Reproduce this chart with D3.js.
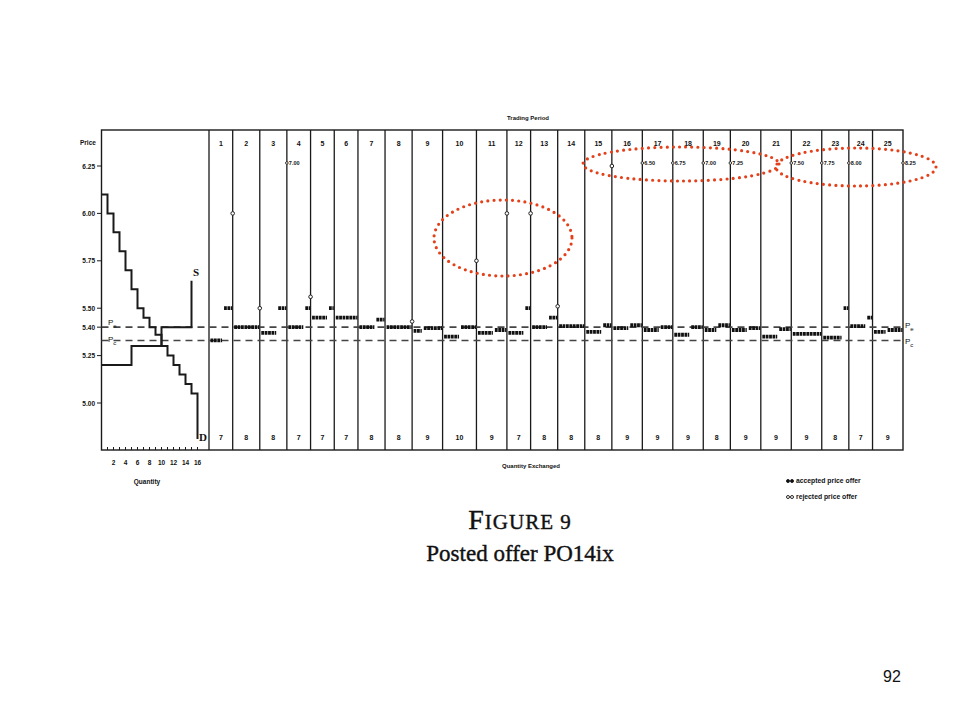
<!DOCTYPE html>
<html><head><meta charset="utf-8">
<script src="https://cdn.jsdelivr.net/npm/d3@7"></script>
<style>
html,body{margin:0;padding:0;background:#fff;}
svg text{fill:#111;}
</style></head>
<body>
<svg id="c" width="960" height="720"></svg>
<script>
// ---------------- data ----------------
const periods = d3.range(1, 26);
const quantityExchanged = [7,8,8,7,7,7,8,8,9,10,9,7,8,8,8,9,9,9,8,9,9,9,8,7,9];
// accepted price offers per period: prices and units sold at each
const acceptedPrice = [
 [5.33,5.50],[5.40],[5.37,5.50],[5.40,5.50],[5.45,5.50],[5.45],[5.40,5.44],[5.40],
 [5.38,5.395],[5.35,5.40],[5.37,5.385],[5.37,5.50],[5.40,5.45],[5.405],[5.375,5.41],
 [5.395,5.41],[5.385,5.40],[5.36,5.40],[5.385,5.41],[5.385,5.395],[5.35,5.39],
 [5.365],[5.345,5.50],[5.405,5.45],[5.375,5.385]
];
const acceptedUnits = [
 [4,3],[8],[5,3],[5,2],[5,2],[7],[5,3],[8],
 [3,6],[5,5],[5,4],[5,2],[5,3],[8],[5,3],
 [5,4],[5,4],[5,4],[4,4],[5,4],[5,4],
 [9],[6,2],[5,2],[4,5]
];
// rejected offers shown on the chart: after period k, price
const rejectedAfter = [1, 2, 4, 8, 10, 11, 12, 13, 15];
const rejectedPrice = [6.00, 5.50, 5.56, 5.43, 5.75, 6.00, 6.00, 5.51, 6.25];
// rejected offers above the chart (labelled)
const offScaleAfter = [3, 16, 17, 18, 19, 21, 22, 23, 25];
const offScalePrice = ["7.00","6.50","6.75","7.00","7.25","7.50","7.75","8.00","8.25"];
// supply and demand
const demandPrice = [6.10,6.00,5.90,5.80,5.70,5.60,5.50,5.45,5.40,5.36,5.30,5.25,5.20,5.15,5.10,5.05];
const supplyPrice = [5.20,5.30,5.40];
const supplyUnits = [5,5,5];
const supplyTop = 5.645, demandBottom = 4.81;
const priceTicks = [6.25,6.00,5.75,5.50,5.40,5.25,5.00];
const priceTickLabels = ["6.25","6.00","5.75","5.50","5.40","5.25","5.00"];
const qtyTicks = [2,4,6,8,10,12,14,16];
const pe = 5.40, pc = 5.33;

// ---------------- drawing ----------------
const svg = d3.select("#c");
const frameTop = 130, frameBottom = 450, frameLeft = 101.5, frameSplit = 209, frameRight = 903;
const y = d3.scaleLinear().domain([5.00, 6.25]).range([403, 166]);
const cum = [0];
quantityExchanged.forEach(q => cum.push(cum[cum.length-1] + q));
const xp = d3.scaleLinear().domain([0, cum[cum.length-1]]).range([frameSplit, frameRight]);
const xq = d3.scaleLinear().domain([0, 16]).range([frameLeft, 197.5]);
const ink = "#1a1a1a";
const font = "'Liberation Sans', Arial, sans-serif";

// frame
svg.append("rect").attr("x", frameLeft).attr("y", frameTop).attr("width", frameRight-frameLeft).attr("height", frameBottom-frameTop)
  .attr("fill","none").attr("stroke", ink).attr("stroke-width", 1.4);
// period boundaries
svg.selectAll("line.pb").data(cum.slice(0, -1)).join("line")
  .attr("x1", d => xp(d)).attr("x2", d => xp(d)).attr("y1", frameTop).attr("y2", frameBottom)
  .attr("stroke", ink).attr("stroke-width", 1.3);

// dashed Pe / Pc
[pe, pc].forEach(p => {
  svg.append("line").attr("x1", frameLeft).attr("x2", frameRight).attr("y1", y(p)).attr("y2", y(p))
    .attr("stroke", "#444").attr("stroke-width", 1.6).attr("stroke-dasharray", "7,5");
});
function pLabel(x, yy, sub){
  const t = svg.append("text").attr("x", x).attr("y", yy).attr("font-family", font).attr("font-size", 8);
  t.append("tspan").text("P");
  t.append("tspan").attr("dy", 3).attr("font-size", 6).text(sub);
}
pLabel(108, y(pe)-2, "e"); pLabel(108, y(pc)+2, "c");
pLabel(905, y(pe)+1, "e"); pLabel(905, y(pc)+4, "c");

// price axis
svg.selectAll("text.pt").data(priceTicks).join("text")
  .attr("x", 95).attr("y", d => y(d) + 2.5).attr("text-anchor","end")
  .attr("font-family", font).attr("font-size", 6.5).attr("font-weight","bold")
  .text((d,i) => priceTickLabels[i]);
svg.selectAll("line.ptk").data(priceTicks).join("line")
  .attr("x1", 97).attr("x2", frameLeft).attr("y1", d => y(d)).attr("y2", d => y(d))
  .attr("stroke", ink).attr("stroke-width", 1);
svg.append("text").attr("x", 80).attr("y", 145).attr("font-family", font).attr("font-size", 6.5)
  .attr("font-weight","bold").text("Price");

// quantity axis of left panel
svg.selectAll("line.qt").data(d3.range(1, 17)).join("line")
  .attr("x1", d => xq(d)).attr("x2", d => xq(d)).attr("y1", frameBottom).attr("y2", frameBottom-3)
  .attr("stroke", ink).attr("stroke-width", 1);
svg.selectAll("text.ql").data(qtyTicks).join("text")
  .attr("x", d => xq(d)).attr("y", 465).attr("text-anchor","middle")
  .attr("font-family", font).attr("font-size", 6.5).attr("font-weight","bold").text(d => d);
svg.append("text").attr("x", 147).attr("y", 484).attr("text-anchor","middle")
  .attr("font-family", font).attr("font-size", 6.5).attr("font-weight","bold").text("Quantity");

// demand and supply
const stepLine = d3.line().x(d => xq(d[0])).y(d => y(d[1])).curve(d3.curveStepAfter);
const demandPts = demandPrice.map((p, i) => [i, p]);
demandPts.push([16, demandPrice[15]]); demandPts.push([16, demandBottom]);
svg.append("path").attr("d", stepLine(demandPts)).attr("fill","none").attr("stroke", ink).attr("stroke-width", 2);
const supplyPts = []; let sq = 0;
supplyPrice.forEach((p, i) => { supplyPts.push([sq, p]); sq += supplyUnits[i]; });
supplyPts.push([sq, supplyTop]);
svg.append("path").attr("d", stepLine(supplyPts)).attr("fill","none").attr("stroke", ink).attr("stroke-width", 2);
svg.append("text").attr("x", 193).attr("y", 276).attr("font-family","'Liberation Serif', serif")
  .attr("font-size", 11).attr("font-weight","bold").text("S");
svg.append("text").attr("x", 199).attr("y", 441).attr("font-family","'Liberation Serif', serif")
  .attr("font-size", 11).attr("font-weight","bold").text("D");

// period numbers & quantities
svg.selectAll("text.pn").data(periods).join("text")
  .attr("x", (d,i) => (xp(cum[i]) + xp(cum[i+1]))/2).attr("y", 146).attr("text-anchor","middle")
  .attr("font-family", font).attr("font-size", 7).attr("font-weight","bold").text(d => d);
svg.selectAll("text.qe").data(quantityExchanged).join("text")
  .attr("x", (d,i) => (xp(cum[i]) + xp(cum[i+1]))/2).attr("y", 440).attr("text-anchor","middle")
  .attr("font-family", font).attr("font-size", 7).attr("font-weight","bold").text(d => d);
svg.append("text").attr("x", 528).attr("y", 120).attr("text-anchor","middle")
  .attr("font-family", font).attr("font-size", 6).attr("font-weight","bold").text("Trading Period");
svg.append("text").attr("x", 531).attr("y", 468).attr("text-anchor","middle")
  .attr("font-family", font).attr("font-size", 6).attr("font-weight","bold").text("Quantity Exchanged");

// accepted offers
acceptedPrice.forEach((prices, i) => {
  let u = cum[i];
  prices.forEach((p, j) => {
    const n = acceptedUnits[i][j];
    svg.append("line")
      .attr("x1", xp(u) + 1.5).attr("x2", xp(u + n) - 0.5)
      .attr("y1", y(p)).attr("y2", y(p))
      .attr("stroke", "#111").attr("stroke-width", 3.8).attr("stroke-dasharray", "2.8,0.6");
    u += n;
  });
});
// rejected offers
svg.selectAll("circle.rj").data(rejectedAfter).join("circle")
  .attr("cx", d => xp(cum[d])).attr("cy", (d,i) => y(rejectedPrice[i])).attr("r", 1.8)
  .attr("fill","#fff").attr("stroke", "#222").attr("stroke-width", 1);
// off-scale offers
offScaleAfter.forEach((k, i) => {
  const x0 = xp(cum[k]);
  svg.append("circle").attr("cx", x0).attr("cy", 163).attr("r", 1.3)
    .attr("fill","#fff").attr("stroke","#222").attr("stroke-width", 0.9);
  svg.append("text").attr("x", x0 + 2).attr("y", 165).attr("font-family", font)
    .attr("font-size", 5.5).attr("font-weight","bold").text(offScalePrice[i]);
});

// legend
const lg = svg.append("g").attr("font-family", font).attr("font-size", 6.8).attr("font-weight","bold");
[0,1].forEach(k => {
  const yy = 481 + k*16;
  [0,1].forEach(m => lg.append("circle").attr("cx", 788 + m*4).attr("cy", yy).attr("r", 1.5)
    .attr("fill", k === 0 ? "#111" : "#fff").attr("stroke","#111").attr("stroke-width", 0.9));
  lg.append("text").attr("x", 796).attr("y", yy + 2).text(k === 0 ? "accepted price offer" : "rejected price offer");
});

// title
const serif = "'Liberation Serif', 'Times New Roman', serif";
const t1 = svg.append("text").attr("x", 520).attr("y", 529).attr("text-anchor","middle")
  .attr("font-family", serif).attr("letter-spacing", 1)
  .attr("stroke","#111").attr("stroke-width", 0.4);
t1.append("tspan").attr("font-size", 28).text("F");
t1.append("tspan").attr("font-size", 21).text("IGURE 9");
svg.append("text").attr("x", 520).attr("y", 561).attr("text-anchor","middle")
  .attr("font-family", serif).attr("font-size", 23)
  .attr("stroke","#111").attr("stroke-width", 0.4)
  .text("Posted offer PO14ix");
svg.append("text").attr("x", 892).attr("y", 682).attr("text-anchor","middle")
  .attr("font-family","'Liberation Sans', Arial, sans-serif").attr("font-size", 16).text("92");

// red dotted annotation ellipses
const ellipses = [[503, 238, 69, 38], [681, 164, 98, 17], [856, 167, 80, 19]];
svg.selectAll("ellipse.an").data(ellipses).join("ellipse")
  .attr("cx", d => d[0]).attr("cy", d => d[1]).attr("rx", d => d[2]).attr("ry", d => d[3])
  .attr("fill","none").attr("stroke","#e4411b").attr("stroke-width", 3.2)
  .attr("stroke-linecap","round").attr("stroke-dasharray","0,6.2");
</script>
</body></html>
